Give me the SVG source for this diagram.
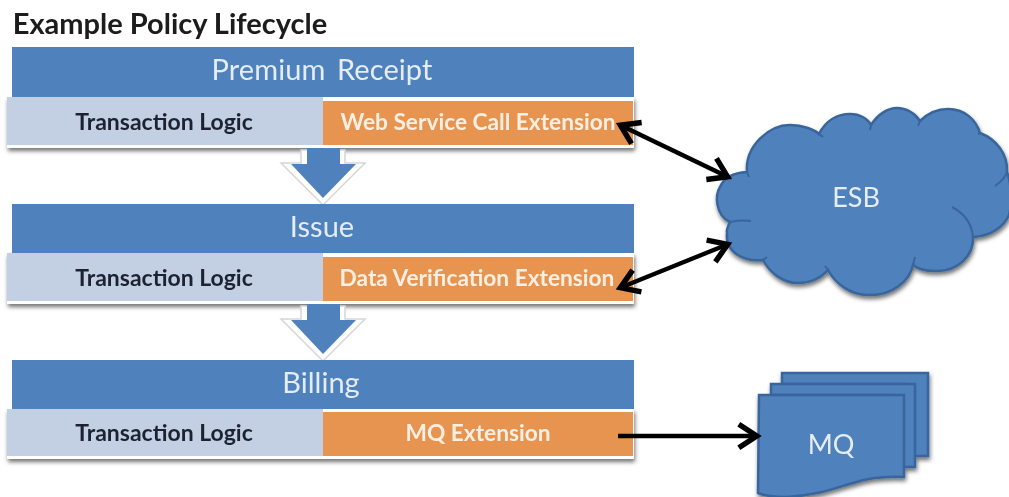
<svg xmlns="http://www.w3.org/2000/svg" width="1009" height="497" viewBox="0 0 1009 497">
<style>
text{font-family:Lato,"Liberation Sans",sans-serif;text-anchor:middle}
.head{fill:#4f81bd}
.light{fill:#c3cfe3}
.orange{fill:#e6944f}
.hd{fill:#e4ecf6;font-size:29px}
.logic{fill:#1c2433;font-size:23px;font-weight:700}
.ext{fill:#fbeee2;font-size:22.7px;font-weight:700}
.big{fill:#e6edf6;font-size:27px}
.conn{fill:none;stroke:#000;stroke-width:4.5}
.sh{stroke:#38659b;stroke-width:2.5;fill:#4f81bd}
.in{fill:none;stroke:#38659b;stroke-width:2}
.halo{fill:#fff;stroke:#d6d6d6;stroke-width:1.5}
</style>
<defs>
<filter id="s" x="-5%" y="-10%" width="110%" height="125%"><feDropShadow dx="1" dy="3" stdDeviation="2" flood-color="#000" flood-opacity=".55"/></filter>
<filter id="b" filterUnits="userSpaceOnUse" x="0" y="0" width="1009" height="497"><feGaussianBlur stdDeviation=".7"/></filter>
<marker id="a" viewBox="0 0 16 16" refX="12" refY="8" markerWidth="6.4" markerHeight="6.4" orient="auto-start-reverse" markerUnits="strokeWidth"><path d="M3 1.5L13 8L3 14.5" fill="none" stroke="#000" stroke-width="3"/></marker>
</defs>
<g filter="url(#b)">
<text x="170" y="34" style="font-size:29px;font-weight:700;fill:#1a1a1a">Example Policy Lifecycle</text>

<g id="premium">
<rect x="7" y="97" width="627" height="51" fill="#fff" filter="url(#s)"/>
<rect class="head" x="12" y="47" width="622" height="50"/>
<rect class="light" x="7" y="97" width="316" height="48"/>
<rect class="orange" x="323" y="101" width="310" height="44"/>
<text class="hd" x="322" y="80" style="word-spacing:4px;letter-spacing:.1px">Premium Receipt</text>
<text class="logic" x="164" y="130">Transaction Logic</text>
<text class="ext" x="478" y="130">Web Service Call Extension</text>
</g>
<g id="arrow1"><path class="halo" d="M281 163H301V150H345V163H365L323 205Z"/><path class="head" d="M291 164H307V148H340V164H356L323 198Z"/></g>

<g id="issue">
<rect x="7" y="253" width="627" height="51" fill="#fff" filter="url(#s)"/>
<rect class="head" x="12" y="204" width="622" height="49"/>
<rect class="light" x="7" y="253" width="316" height="48"/>
<rect class="orange" x="323" y="257" width="310" height="44"/>
<text class="hd" x="322" y="237">Issue</text>
<text class="logic" x="164" y="286">Transaction Logic</text>
<text class="ext" x="477" y="286">Data Verification Extension</text>
</g>
<g id="arrow2"><path class="halo" d="M281 319H301V306H345V319H365L323 361Z"/><path class="head" d="M291 320H307V304H340V320H356L323 354Z"/></g>

<g id="billing">
<rect x="7" y="409" width="627" height="50" fill="#fff" filter="url(#s)"/>
<rect class="head" x="12" y="360" width="622" height="49"/>
<rect class="light" x="7" y="409" width="316" height="47"/>
<rect class="orange" x="323" y="412" width="310" height="44"/>
<text class="hd" x="321" y="393">Billing</text>
<text class="logic" x="164" y="441">Transaction Logic</text>
<text class="ext" x="478" y="441">MQ Extension</text>
</g>

<g id="esb" filter="url(#s)">
<path class="sh" d="M747 172C745 145 770 125 790 125C803 125 815 130 819 134C826 120 838 114 850 114C860 114 868 119 871 125C878 114 888 108 897 108C906 108 915 113 920 121C928 113 938 109 948 109C965 109 976 120 980 133C996 139 1008 154 1007 172C1012 185 1012 205 1009 215C1003 228 990 236 973 237C974 255 958 272 935 271C927 271 918 269 913 265C910 280 893 296 868 295C850 295 835 283 828 270C818 281 808 283 798 283C783 283 770 273 763 260C745 262 725 253 727 233C726 230 728 226 730 222C715 215 715 195 720 187C723 180 730 173 747 172Z"/>
<path class="in" d="M747 172L749 177M819 134L823 137M871 125L870 130M920 121L918 126M980 133L978 134M1007 172C1005 178 1001 182 995 186M973 237C972 225 965 214 952 207M913 265L915 257M828 270L825 266M763 260L767 257M730 222C737 220 743 220 751 221"/>
<text class="big" x="856" y="207" stroke="none">ESB</text>
</g>

<g id="mq" filter="url(#s)">
<path class="sh" d="M782 373H928V456H905V384H782Z"/>
<path class="sh" d="M771 384H915V467H893V395H771Z"/>
<path class="sh" d="M759 395H904V477C885 476 868 478 853 483C838 487 820 495 787 497C775 497 765 496 758 493Z"/>
<text class="big" x="831" y="454" stroke="none">MQ</text>
</g>

<g id="connectors">
<path class="conn" d="M622 126L726 176" marker-start="url(#a)" marker-end="url(#a)"/>
<path class="conn" d="M622 287L726 245" marker-start="url(#a)" marker-end="url(#a)"/>
<path class="conn" d="M618 436H755" marker-end="url(#a)"/>
</g>
</g>
</svg>
